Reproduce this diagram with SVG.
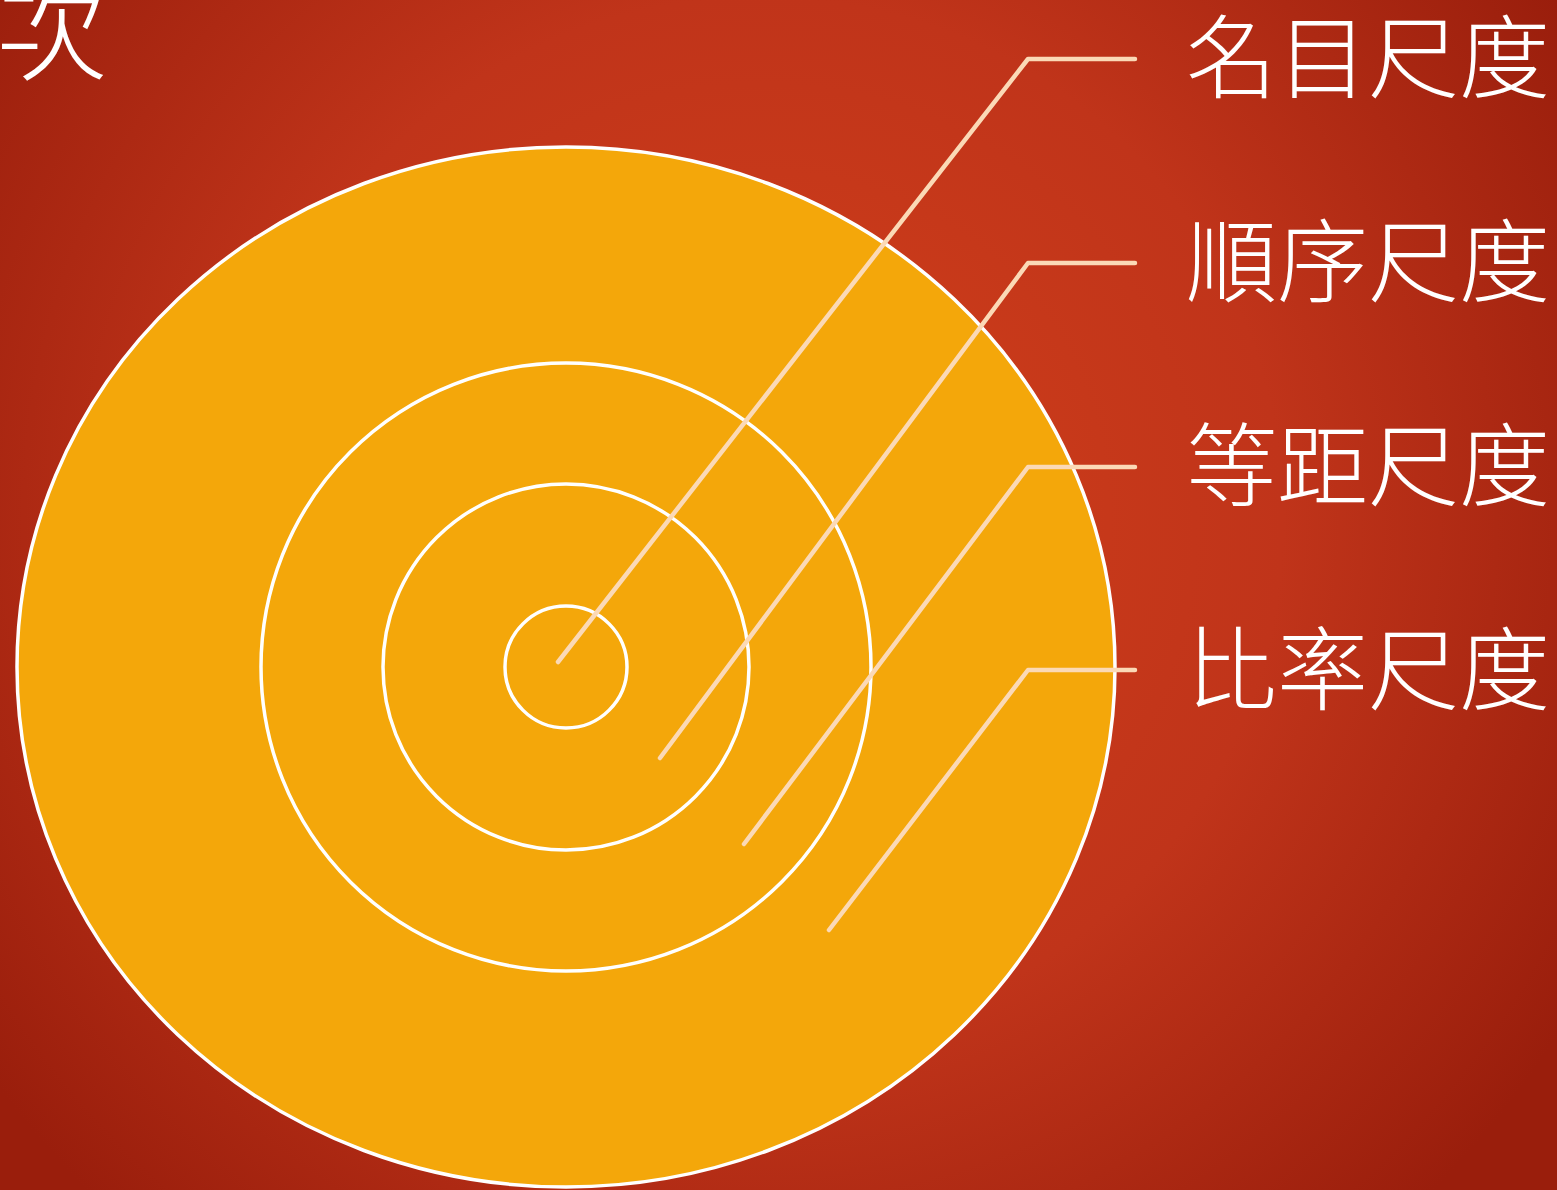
<svg xmlns="http://www.w3.org/2000/svg" width="1557" height="1190" viewBox="0 0 1557 1190">
<defs>
<radialGradient id="bg" cx="760" cy="520" r="950" gradientUnits="userSpaceOnUse">
<stop offset="0" stop-color="#d2401a"/>
<stop offset="0.55" stop-color="#c0341a"/>
<stop offset="1" stop-color="#9a1e0c"/>
</radialGradient>
<style>
.ring{fill:#f4a70a;stroke:#ffffff;stroke-width:3.5}
.lead{fill:none;stroke:#fbd9b6;stroke-width:4.5;stroke-linecap:round;stroke-linejoin:round}
.lbl{font-family:"Noto Sans CJK TC","Noto Sans CJK SC",sans-serif;font-size:91px;fill:#ffffff;font-weight:300}
</style>
</defs>
<rect width="1557" height="1190" fill="url(#bg)"/>
<text x="-4" y="72" class="lbl" style="font-size:112px">次</text>
<g id="ring-ratio"><ellipse class="ring" cx="566" cy="667" rx="549" ry="520"/></g>
<g id="ring-interval"><ellipse class="ring" cx="566" cy="667" rx="305" ry="304"/></g>
<g id="ring-ordinal"><ellipse class="ring" cx="566" cy="667" rx="183" ry="183"/></g>
<g id="ring-nominal"><circle class="ring" cx="566" cy="667" r="61"/></g>
<g id="connectors">
<polyline class="lead" points="558,662 1028,59 1135,59"/>
<polyline class="lead" points="660,758 1028,263 1135,263"/>
<polyline class="lead" points="744,844 1028,467 1135,467"/>
<polyline class="lead" points="829,930 1028,670 1135,670"/>
</g>
<g id="label-nominal"><text class="lbl" x="1186" y="91">名目尺度</text></g>
<g id="label-ordinal"><text class="lbl" x="1186" y="295">順序尺度</text></g>
<g id="label-interval"><text class="lbl" x="1186" y="499">等距尺度</text></g>
<g id="label-ratio"><text class="lbl" x="1186" y="703">比率尺度</text></g>
</svg>
